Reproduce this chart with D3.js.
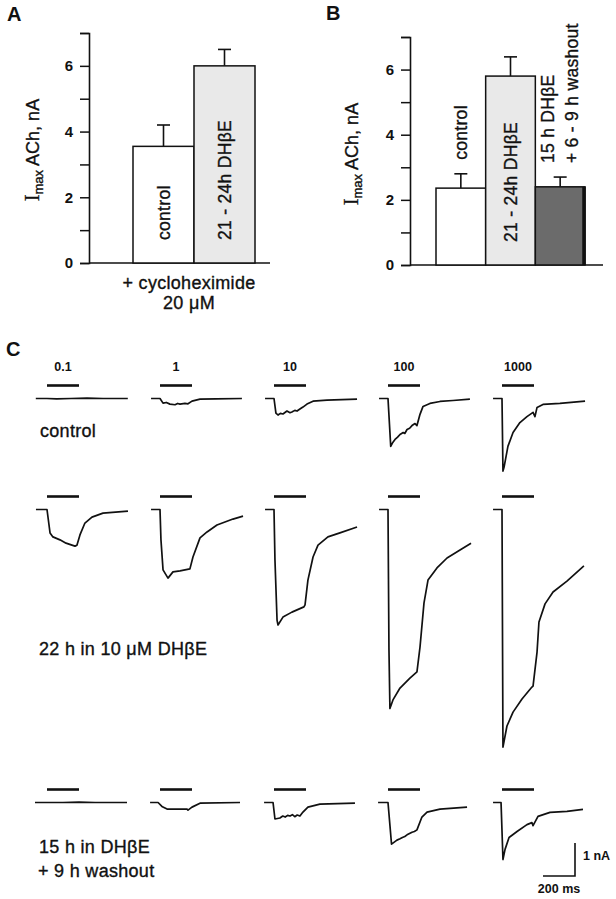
<!DOCTYPE html>
<html>
<head>
<meta charset="utf-8">
<script src="https://cdn.jsdelivr.net/npm/d3@7"></script>
<style>
  body { margin: 0; background: #fff; }
  svg { display: block; font-family: "Liberation Sans", Arial, Helvetica, sans-serif; }
  .txt { stroke: #111; stroke-width: 0.35px; }
</style>
</head>
<body>
<svg id="fig" width="616" height="899"></svg>
<script>
// ─── DATA: panels A and B (Imax ACh, nA) ─────────────────────────────────────
const yTicks      = [0, 1, 2, 3, 4, 5, 6, 7];
const yTickLabels = [0, 2, 4, 6];

const barsA   = ["control", "21 - 24h DHβE"];
const valuesA = [3.55, 6.0];
const errorsA = [0.65, 0.5];

const barsB   = ["control", "21 - 24h DHβE", "15 h DHβE|+ 6 - 9 h washout"];
const valuesB = [2.36, 5.8, 2.4];
const errorsB = [0.44, 0.59, 0.3];

// ─── DATA: panel C (traces, [time ms from application, current nA]) ──────────
const concentrations = ["0.1", "1", "10", "100", "1000"];
const rowLabels = ["control", "22 h in 10 μM DHβE", "15 h in DHβE|+ 9 h washout"];

const tracesControl = [
  [[-70,0],[0,0],[60,-0.01],[150,0],[250,0.01],[350,0],[505,0]],
  [[-56,0],[0,0],[19,-0.14],[40,-0.12],[62,-0.17],[94,-0.19],[110,-0.15],[125,-0.17],[156,-0.15],[175,-0.16],[200,-0.08],[250,-0.02],[350,-0.01],[512,0]],
  [[-56,0],[0,0],[12,-0.44],[25,-0.5],[40,-0.45],[56,-0.47],[81,-0.38],[100,-0.43],[112,-0.41],[130,-0.36],[144,-0.38],[162,-0.32],[181,-0.26],[206,-0.17],[244,-0.08],[331,-0.05],[519,-0.02]],
  [[-56,0],[0,0],[17,-1.45],[30,-1.33],[44,-1.24],[60,-1.17],[75,-1.09],[95,-1.03],[105,-1.06],[119,-0.94],[135,-0.9],[150,-0.82],[169,-0.76],[181,-0.82],[200,-0.48],[219,-0.24],[262,-0.15],[325,-0.09],[406,-0.06],[512,-0.02]],
  [[-56,0],[0,0],[6,-2.2],[13,-2.08],[37,-1.45],[69,-1.03],[112,-0.73],[156,-0.55],[194,-0.42],[206,-0.55],[219,-0.27],[256,-0.18],[362,-0.15],[519,-0.08]]
];

const tracesDHbE = [
  [[-69,0],[0,0],[19,-0.71],[37,-0.83],[81,-0.92],[119,-1.02],[156,-1.08],[175,-1.11],[187,-1.08],[206,-0.77],[237,-0.41],[281,-0.23],[350,-0.11],[506,-0.05]],
  [[-56,0],[0,0],[6,-0.92],[19,-1.83],[50,-2.08],[81,-1.89],[125,-1.86],[187,-1.8],[206,-1.44],[250,-0.86],[294,-0.68],[356,-0.47],[456,-0.29],[519,-0.2]],
  [[-56,0],[0,0],[6,-1.53],[19,-3.35],[25,-3.5],[56,-3.26],[112,-3.11],[187,-2.95],[194,-2.89],[212,-2.14],[244,-1.44],[275,-1.08],[337,-0.83],[412,-0.71],[519,-0.53]],
  [[-56,0],[0,0],[6,-4.24],[12,-6.03],[31,-5.77],[75,-5.41],[137,-5.11],[181,-4.92],[200,-4.17],[225,-2.83],[250,-2.14],[306,-1.77],[369,-1.47],[450,-1.23],[519,-1.02]],
  [[-56,0],[0,0],[6,-7.2],[31,-6.56],[69,-6.14],[125,-5.74],[187,-5.38],[194,-5.35],[219,-4.32],[231,-3.41],[269,-2.86],[319,-2.5],[406,-2.17],[512,-1.71]]
];

const tracesWashout = [
  [[-75,0],[0,0],[100,0],[200,0.01],[300,0],[500,0]],
  [[-62,0],[-12,0],[12,-0.12],[44,-0.2],[106,-0.2],[169,-0.2],[175,-0.23],[200,-0.14],[250,-0.02],[500,0]],
  [[-62,0],[-6,0],[6,-0.5],[37,-0.47],[55,-0.41],[70,-0.44],[85,-0.39],[100,-0.41],[115,-0.37],[130,-0.43],[145,-0.38],[162,-0.41],[181,-0.29],[212,-0.14],[287,-0.05],[506,-0.02]],
  [[-62,0],[0,0],[22,-1.26],[56,-1.14],[75,-1.1],[90,-1.06],[105,-1.03],[119,-0.98],[150,-0.9],[165,-0.88],[181,-0.83],[212,-0.44],[244,-0.29],[325,-0.2],[494,-0.14]],
  [[-56,0],[-6,0],[6,-1.73],[19,-1.42],[44,-1.06],[94,-0.88],[156,-0.67],[187,-0.61],[194,-0.7],[225,-0.42],[300,-0.3],[406,-0.27],[506,-0.21]]
];

const stimDuration = 200;       // ms
const scaleBarTime = 200;       // ms
const scaleBarCurrent = 1;      // nA

// ─── SETUP ───────────────────────────────────────────────────────────────────
const svg = d3.select("#fig");
const BLACK = "#111";

function panelLetter(text, x, y) {
  svg.append("text").attr("x", x).attr("y", y)
    .attr("font-size", 20).attr("font-weight", "bold").attr("fill", BLACK)
    .text(text);
}

function yAxisLabel(cx, cy) {
  const t = svg.append("text").attr("class", "txt")
    .attr("transform", `translate(${cx},${cy}) rotate(-90)`)
    .attr("text-anchor", "middle").attr("dy", "0.35em")
    .attr("font-size", 18).attr("fill", BLACK);
  t.append("tspan").attr("font-family", "'Liberation Serif', 'Times New Roman', serif")
    .attr("font-size", 20).text("I");
  t.append("tspan").attr("font-size", 13).attr("dy", 4).text("max");
  t.append("tspan").attr("dy", -4).text(" ACh, nA");
}

// ─── BAR PANEL ───────────────────────────────────────────────────────────────
function drawBarPanel(cfg) {
  const y = d3.scaleLinear().domain([0, 7]).range([cfg.y0, cfg.y7]);
  const x = d3.scaleBand().domain(cfg.cats).range(cfg.barRange).padding(0);

  const g = svg.append("g");

  // y axis
  g.append("g")
    .attr("transform", `translate(${cfg.axisX},0)`)
    .call(d3.axisLeft(y).tickValues(yTicks).tickSize(9).tickPadding(7)
      .tickFormat(d => yTickLabels.includes(d) ? d : ""))
    .call(a => a.select(".domain").attr("stroke", BLACK).attr("stroke-width", 1.6))
    .call(a => a.selectAll(".tick line").attr("stroke", BLACK).attr("stroke-width", 1.5))
    .call(a => a.selectAll("text").attr("font-size", 15).attr("font-weight", "bold")
      .attr("font-family", "'Liberation Sans', Arial, sans-serif").attr("fill", BLACK));

  // x baseline
  g.append("line")
    .attr("x1", cfg.axisX).attr("x2", cfg.axisEnd)
    .attr("y1", y(0)).attr("y2", y(0))
    .attr("stroke", BLACK).attr("stroke-width", 1.6);

  // error bars
  const err = g.selectAll(".err").data(cfg.cats).enter().append("g");
  err.append("line")
    .attr("x1", d => x(d) + x.bandwidth() / 2).attr("x2", d => x(d) + x.bandwidth() / 2)
    .attr("y1", (d, i) => y(cfg.values[i])).attr("y2", (d, i) => y(cfg.values[i] + cfg.errors[i]))
    .attr("stroke", BLACK).attr("stroke-width", 1.6);
  err.append("line")
    .attr("x1", d => x(d) + x.bandwidth() / 2 - 6.5).attr("x2", d => x(d) + x.bandwidth() / 2 + 6.5)
    .attr("y1", (d, i) => y(cfg.values[i] + cfg.errors[i])).attr("y2", (d, i) => y(cfg.values[i] + cfg.errors[i]))
    .attr("stroke", BLACK).attr("stroke-width", 1.6);

  // bars
  g.selectAll(".bar").data(cfg.cats).enter().append("rect")
    .attr("x", d => x(d)).attr("width", x.bandwidth())
    .attr("y", (d, i) => y(cfg.values[i]))
    .attr("height", (d, i) => y(0) - y(cfg.values[i]))
    .attr("fill", (d, i) => cfg.fills[i])
    .attr("stroke", BLACK).attr("stroke-width", 1.5);

  // heavy right edge on dark bar
  cfg.cats.forEach((d, i) => {
    if (cfg.fills[i] === "#6b6b6b") {
      g.append("line")
        .attr("x1", x(d) + x.bandwidth() - 1).attr("x2", x(d) + x.bandwidth() - 1)
        .attr("y1", y(cfg.values[i])).attr("y2", y(0))
        .attr("stroke", BLACK).attr("stroke-width", 3.5);
    }
  });

  // bar labels (rotated)
  cfg.cats.forEach((d, i) => {
    const lines = d.split("|");
    const cx = x(d) + x.bandwidth() / 2;
    const inside = cfg.inside[i];
    const startY = inside ? y(0) - 23 : y(cfg.values[i] + cfg.errors[i]) - 14;
    lines.forEach((line, j) => {
      const off = (j - (lines.length - 1) / 2) * 24;
      g.append("text").attr("class", "txt")
        .attr("transform", `translate(${cx + off},${startY}) rotate(-90)`)
        .attr("dy", "0.36em")
        .attr("font-size", 17.5).attr("fill", BLACK)
        .attr("letter-spacing", 0.3)
        .text(line);
    });
  });
  return { x, y };
}

// ─── PANEL A ─────────────────────────────────────────────────────────────────
panelLetter("A", 7, 21);
yAxisLabel(33, 150);
drawBarPanel({
  cats: barsA, values: valuesA, errors: errorsA,
  fills: ["#ffffff", "#e9e9e9"], inside: [true, true],
  axisX: 89, axisEnd: 270, y0: 263, y7: 33, barRange: [133, 255]
});
svg.append("text").attr("class", "txt").attr("x", 189).attr("y", 289).attr("text-anchor", "middle")
  .attr("font-size", 18).attr("letter-spacing", 0.3).attr("fill", BLACK).text("+ cycloheximide");
svg.append("text").attr("class", "txt").attr("x", 189).attr("y", 309).attr("text-anchor", "middle")
  .attr("font-size", 18).attr("letter-spacing", 0.3).attr("fill", BLACK).text("20 μM");

// ─── PANEL B ─────────────────────────────────────────────────────────────────
panelLetter("B", 326, 20);
yAxisLabel(352, 154);
drawBarPanel({
  cats: barsB, values: valuesB, errors: errorsB,
  fills: ["#ffffff", "#e9e9e9", "#6b6b6b"], inside: [false, true, false],
  axisX: 410, axisEnd: 603, y0: 265, y7: 37, barRange: [436, 585]
});

// ─── PANEL C ─────────────────────────────────────────────────────────────────
panelLetter("C", 6, 356);

const colX0   = [47, 160, 274, 388, 502];
const rowBase = [398.5, 509.5, 802.5];
const rows    = [tracesControl, tracesDHbE, tracesWashout];

const tScale = d3.scaleLinear().domain([0, 200]).range([0, 32]);
const iScale = d3.scaleLinear().domain([0, -1]).range([0, 33]);
const line = d3.line().x(d => tScale(d[0])).y(d => iScale(d[1]));

rows.forEach((traces, r) => {
  traces.forEach((tr, c) => {
    const g = svg.append("g").attr("transform", `translate(${colX0[c]},${rowBase[r]})`);
    // application bar
    g.append("line")
      .attr("x1", tScale(0)).attr("x2", tScale(stimDuration))
      .attr("y1", -13).attr("y2", -13)
      .attr("stroke", BLACK).attr("stroke-width", 2.6);
    g.append("path").datum(tr)
      .attr("d", line)
      .attr("fill", "none").attr("stroke", BLACK)
      .attr("stroke-width", 1.7).attr("stroke-linejoin", "round");
  });
});

// concentration labels
concentrations.forEach((c, i) => {
  svg.append("text")
    .attr("x", colX0[i] + tScale(stimDuration) / 2).attr("y", 371)
    .attr("text-anchor", "middle")
    .attr("font-size", 12.5).attr("font-weight", "bold").attr("fill", BLACK)
    .text(c);
});

// row labels
const rowLabelPos = [[40, 437], [39, 655], [39, 853]];
rowLabels.forEach((lab, r) => {
  lab.split("|").forEach((ln, j) => {
    svg.append("text").attr("class", "txt")
      .attr("x", rowLabelPos[r][0] - (j ? 1 : 0)).attr("y", rowLabelPos[r][1] + j * 24)
      .attr("font-size", 18).attr("letter-spacing", 0.3).attr("fill", BLACK)
      .text(ln);
  });
});

// scale bar
const sbX = 575, sbY = 876;
svg.append("path")
  .attr("d", `M${sbX - tScale(scaleBarTime)},${sbY}H${sbX}V${sbY - iScale(-scaleBarCurrent)}`)
  .attr("fill", "none").attr("stroke", BLACK).attr("stroke-width", 1.6);
svg.append("text").attr("x", sbX + 8).attr("y", 860)
  .attr("font-size", 12.5).attr("font-weight", "bold").attr("fill", BLACK)
  .text(scaleBarCurrent + " nA");
svg.append("text").attr("x", sbX - tScale(scaleBarTime) / 2).attr("y", 893)
  .attr("text-anchor", "middle")
  .attr("font-size", 12.5).attr("font-weight", "bold").attr("fill", BLACK)
  .text(scaleBarTime + " ms");
</script>
</body>
</html>
